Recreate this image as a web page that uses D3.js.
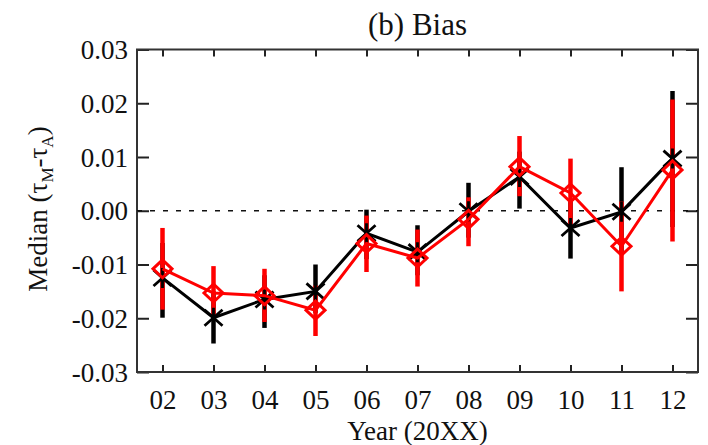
<!DOCTYPE html>
<html><head><meta charset="utf-8">
<script src="https://cdn.jsdelivr.net/npm/d3@7"></script>
<style>body{margin:0;background:#fff}svg{display:block}text{font-family:"Liberation Serif","Times New Roman",serif;fill:#111}</style>
</head><body><svg id="c" width="708" height="445"></svg>
<script>
const years = [2,3,4,5,6,7,8,9,10,11,12];
const yearLabels = ["02","03","04","05","06","07","08","09","10","11","12"];
const yTicks = [-0.03,-0.02,-0.01,0.00,0.01,0.02,0.03];
// black series (asterisks)
const blackMed = [-0.0125,-0.0199,-0.0165,-0.0150,-0.0042,-0.0077,-0.0001,0.0063,-0.0032,-0.0002,0.0097];
const blackLo  = [-0.0199,-0.0247,-0.0218,-0.0190,-0.0090,-0.0120,-0.0050,0.0004,-0.0089,-0.0080,-0.0030];
const blackHi  = [-0.0060,-0.0150,-0.0120,-0.0100,0.0002,-0.0027,0.0052,0.0110,0.0020,0.0081,0.0223];
// red series (diamonds)
const redMed = [-0.0108,-0.0153,-0.0158,-0.0185,-0.0061,-0.0088,-0.0016,0.0082,0.0033,-0.0066,0.0076];
const redLo  = [-0.0184,-0.0202,-0.0207,-0.0233,-0.0114,-0.0141,-0.0066,0.0027,-0.0025,-0.0150,-0.0057];
const redHi  = [-0.0032,-0.0103,-0.0108,-0.0139,-0.0009,-0.0035,0.0025,0.0139,0.0097,0.0017,0.0207];

const svg = d3.select("#c");
const L=137,R=698,T=49.5,B=372;
const x = d3.scaleLinear().domain([1.5,12.5]).range([L,R]);
const y = d3.scaleLinear().domain([-0.03,0.03]).range([B,T]);
const fs = 27;

// axes
const fmtY = d => d3.format(".2f")(d).replace("−","-");
const gl = svg.append("g").attr("transform",`translate(${L},0)`)
  .call(d3.axisLeft(y).tickValues(yTicks).tickSizeInner(-12).tickSizeOuter(0).tickPadding(9).tickFormat(fmtY));
const gr = svg.append("g").attr("transform",`translate(${R},0)`)
  .call(d3.axisRight(y).tickValues(yTicks).tickSizeInner(-12).tickSizeOuter(0).tickFormat(""));
const gb = svg.append("g").attr("transform",`translate(0,${B})`)
  .call(d3.axisBottom(x).tickValues(years).tickSizeInner(-7).tickSizeOuter(0).tickPadding(18).tickFormat((d,i)=>yearLabels[i]));
const gt = svg.append("g").attr("transform",`translate(0,${T})`)
  .call(d3.axisTop(x).tickValues(years).tickSizeInner(-7).tickSizeOuter(0).tickFormat(""));
[gl,gr,gb,gt].forEach(g=>{
  g.select(".domain").remove();
  g.selectAll(".tick line").attr("stroke","#222").attr("stroke-width",2);
  g.selectAll("text").attr("font-size",fs).attr("font-family","Liberation Serif").attr("fill","#111");
});
gl.selectAll("text").attr("dy","0.34em");
svg.append("rect").attr("x",L).attr("y",T).attr("width",R-L).attr("height",B-T)
  .attr("fill","none").attr("stroke","#333").attr("stroke-width",2);

// zero line
svg.append("line").attr("x1",L).attr("x2",R).attr("y1",y(0)).attr("y2",y(0))
  .attr("stroke","#111").attr("stroke-width",1.5).attr("stroke-dasharray","5,8");

// error bars
function bars(lo,hi,color){
  svg.append("g").selectAll("line").data(years).join("line")
    .attr("x1",d=>x(d)).attr("x2",d=>x(d))
    .attr("y1",(d,i)=>y(lo[i])).attr("y2",(d,i)=>y(hi[i]))
    .attr("stroke",color).attr("stroke-width",4.5);
}
bars(blackLo,blackHi,"#000");
bars(redLo,redHi,"#ff0000");

const line = d3.line().x((d,i)=>x(years[i])).y(d=>y(d));
// black line + asterisks
svg.append("path").datum(blackMed).attr("d",line).attr("fill","none").attr("stroke","#000").attr("stroke-width",3);
svg.append("g").selectAll("path").data(years).join("path")
  .attr("transform",(d,i)=>`translate(${x(d)},${y(blackMed[i])})`)
  .attr("d","M-9,-8L9,8M-9,8L9,-8M0,-10L0,10")
  .attr("stroke","#000").attr("stroke-width",2.8).attr("fill","none");
// red line + diamonds
svg.append("path").datum(redMed).attr("d",line).attr("fill","none").attr("stroke","#ff0000").attr("stroke-width",3);
svg.append("g").selectAll("path").data(years).join("path")
  .attr("transform",(d,i)=>`translate(${x(d)},${y(redMed[i])})`)
  .attr("d","M0,-9L9.5,0L0,9L-9.5,0Z")
  .attr("stroke","#ff0000").attr("stroke-width",3).attr("fill","none");

// titles
svg.append("text").attr("x",(L+R)/2).attr("y",35).attr("text-anchor","middle").attr("font-size",31).text("(b) Bias");
svg.append("text").attr("x",(L+R)/2).attr("y",440).attr("text-anchor","middle").attr("font-size",fs).text("Year (20XX)");
const yl = svg.append("text").attr("transform","translate(47,209) rotate(-90)").attr("text-anchor","middle").attr("font-size",fs);
yl.append("tspan").text("Median (τ");
yl.append("tspan").attr("font-size",17).attr("dy",6).text("M");
yl.append("tspan").attr("dy",-6).text("-τ");
yl.append("tspan").attr("font-size",17).attr("dy",6).text("A");
yl.append("tspan").attr("dy",-6).text(")");
</script></body></html>
